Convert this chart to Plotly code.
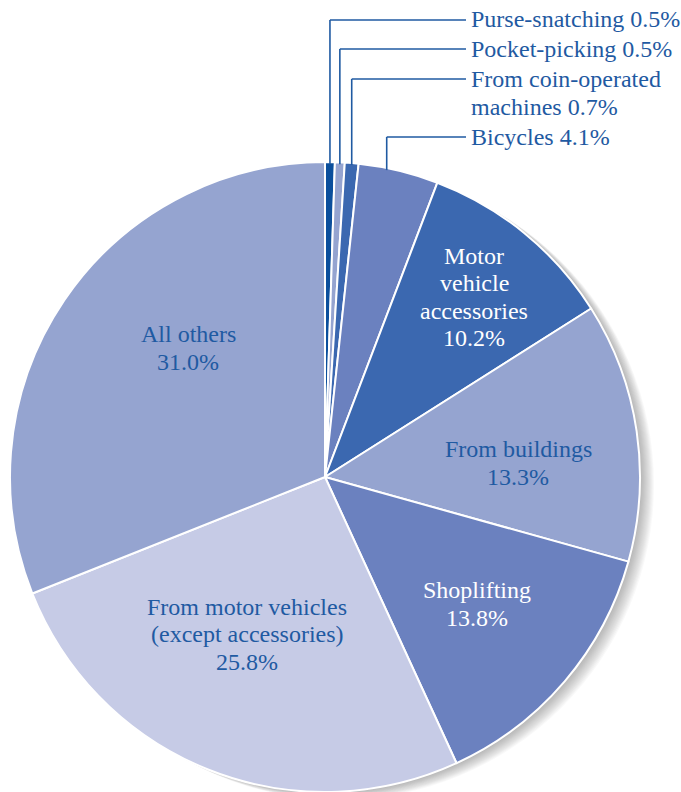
import math
import plotly.graph_objects as go

categories = ["Purse-snatching", "Pocket-picking", "From coin-operated<br>machines",
              "Bicycles", "Motor<br>vehicle<br>accessories", "From buildings",
              "Shoplifting", "From motor vehicles<br>(except accessories)", "All others"]
values = [0.5, 0.5, 0.7, 4.1, 10.2, 13.3, 13.8, 25.8, 31.0]
colors = ["#0b4f9c", "#95a4d0", "#3b68b0", "#6b81bf", "#3b68b0", "#95a4d0",
          "#6b81bf", "#c6cbe6", "#95a4d0"]
text_colors = ["#1f5aa2", "#1f5aa2", "#1f5aa2", "#1f5aa2", "white", "#1f5aa2",
               "white", "#1f5aa2", "#1f5aa2"]

W, H = 681, 792
CX, CY, R = 325, 477, 315
FONT = "Liberation Serif, Tinos, DejaVu Serif, Times New Roman, serif"
FS = 24
LS = 27.5

fig = go.Figure(go.Pie(
    values=values, labels=categories, sort=False, direction="clockwise", rotation=0,
    marker=dict(colors=colors, line=dict(color="white", width=2)),
    textinfo="none", hoverinfo="label+value", showlegend=False,
    domain=dict(x=[(CX - R) / W, (CX + R) / W], y=[(H - CY - R) / H, (H - CY + R) / H]),
))

def px(x, y):
    return x / W, 1 - y / H

# soft shadow on the lower right
shapes = []
for k in range(1, 15):
    dx, dy = k * 1.0, k * 0.55
    x0, y1 = px(CX - R + dx, CY - R + dy)
    x1, y0 = px(CX + R + dx, CY + R + dy)
    shapes.append(dict(type="circle", xref="paper", yref="paper", x0=x0, x1=x1, y0=y0, y1=y1,
                       fillcolor="rgba(90,90,90,0.035)", line=dict(width=0), layer="below"))

annotations = []

def add_lines(lines, x, yc, anchor, color):
    n = len(lines)
    for j, t in enumerate(lines):
        tx, ty = px(x, yc + (j - (n - 1) / 2) * LS)
        annotations.append(dict(x=tx, y=ty, xref="paper", yref="paper", text=t,
                                showarrow=False, xanchor=anchor, yanchor="middle",
                                font=dict(family=FONT, size=FS, color=color)))

total = sum(values)
leader_frac = [0.5, 0.5, 0.5, 0.35]
leader_y = [20, 49, 79, 137]
text_y = [19, 49, 93, 137]
cum = 0.0
for i in range(4):
    ang = 2 * math.pi * (cum + values[i] * leader_frac[i]) / total
    cum += values[i]
    sx = CX + R * math.sin(ang)
    sy = CY - R * math.cos(ang) + 2
    ly = leader_y[i]
    for (ax, ay, bx, by) in [(sx, sy, sx, ly), (sx, ly, 466, ly)]:
        a0, b0 = px(ax, ay)
        a1, b1 = px(bx, by)
        shapes.append(dict(type="line", xref="paper", yref="paper", x0=a0, y0=b0, x1=a1, y1=b1,
                           line=dict(color="#1f5aa2", width=1.6)))
    lines = (categories[i] + f" {values[i]}%").split("<br>")
    add_lines(lines, 469, text_y[i], "left", text_colors[i])

inside_pos = {4: (474, 297), 5: (518, 463), 6: (477, 604), 7: (247, 634), 8: (188, 348)}
for i, (x, y) in inside_pos.items():
    lines = categories[i].split("<br>") + [f"{values[i]}%"]
    add_lines(lines, x, y, "center", text_colors[i])

fig.update_layout(width=W, height=H, margin=dict(l=0, r=0, t=0, b=0),
                  paper_bgcolor="white", plot_bgcolor="white",
                  font=dict(family=FONT),
                  shapes=shapes, annotations=annotations)
fig.write_html("out.html", config={"displayModeBar": False},
               post_script="document.body.style.margin='0';document.body.style.overflow='hidden';")
